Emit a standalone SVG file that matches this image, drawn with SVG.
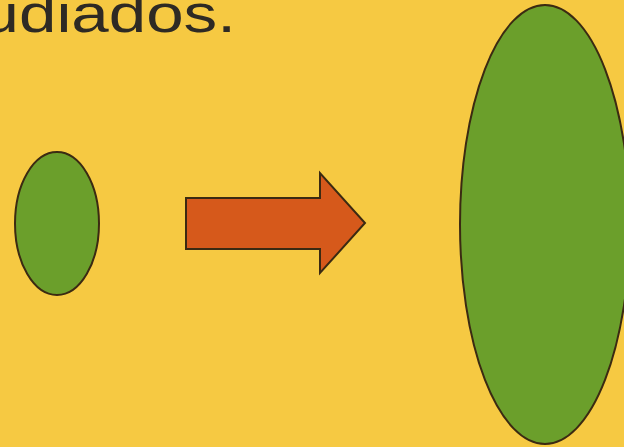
<svg xmlns="http://www.w3.org/2000/svg" width="624" height="447" viewBox="0 0 624 447">
  <style>
    .shape { stroke: #3b2a12; stroke-width: 2; }
    .green { fill: #6b9f2b; }
    .orange { fill: #d6591b; }
    .title { font-family: "Liberation Sans", Arial, sans-serif; font-size: 53px; fill: #2e2a24; }
  </style>
  <rect x="0" y="0" width="624" height="447" fill="#f6c942"/>
  <text class="title" transform="translate(0,32) scale(1.27,1)" x="185.8" y="0" text-anchor="end">udiados.</text>
  <g id="small-ellipse">
    <ellipse class="shape green" cx="57" cy="223.5" rx="42" ry="71.5"/>
  </g>
  <g id="large-ellipse">
    <ellipse class="shape green" cx="545" cy="224.5" rx="85" ry="219.5"/>
  </g>
  <g id="connectors">
    <polygon class="shape orange" points="186,198 320,198 320,173 365,223 320,273 320,249 186,249"/>
  </g>
</svg>
